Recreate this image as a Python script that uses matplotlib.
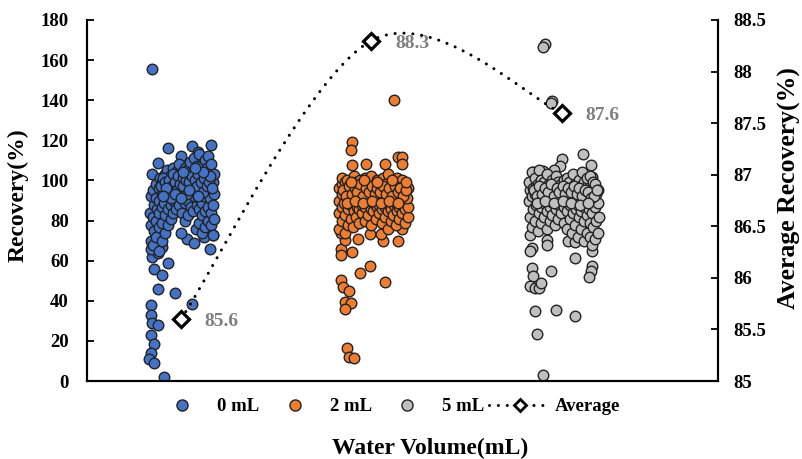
import matplotlib
matplotlib.use("Agg")
import matplotlib.pyplot as plt
import numpy as np
from matplotlib.lines import Line2D
from matplotlib.ticker import MultipleLocator, FuncFormatter

plt.rcParams["font.family"] = ["Liberation Serif", "DejaVu Serif"]
plt.rcParams["font.weight"] = "bold"

# ---- data -------------------------------------------------------------
groups = ["0 mL", "2 mL", "5 mL"]
group_pos = [1, 2, 3]
avg_recovery = [85.6, 88.3, 87.6]

# (jittered x, recovery %) for every sample
rec_0ml = [
    (0.85, 155.5),
    (0.84, 38.0), (0.84, 33.0), (0.85, 29.0), (0.88, 28.0), (0.84, 23.0), (0.86, 18.5),
    (0.84, 14.0), (0.83, 11.0), (0.86, 9.0), (0.91, 2.0),
    (0.88, 46.0), (0.97, 44.0), (1.06, 38.5),
    (0.86, 56.0), (0.90, 53.0), (0.93, 59.0), (0.85, 62.0), (0.88, 64.0), (0.84, 66.0), (0.90, 67.0),
    (1.15, 66.0), (1.03, 71.0), (1.07, 69.0), (1.17, 73.0), (1.12, 72.0), (1.00, 74.0),
    (0.93, 116.0), (0.88, 108.5), (0.85, 103.0), (1.00, 112.0), (1.06, 117.0), (1.16, 117.5),
    (1.09, 114.0), (1.12, 110.0),
    (0.840, 70), (0.843, 78), (0.838, 84), (0.841, 92),
    (0.855, 68), (0.857, 75), (0.853, 82), (0.856, 88), (0.854, 95),
    (0.870, 72), (0.868, 80), (0.872, 86), (0.869, 91), (0.871, 98),
    (0.885, 65), (0.887, 77), (0.883, 84), (0.886, 90), (0.884, 96), (0.888, 101),
    (0.900, 70), (0.902, 79), (0.898, 87), (0.901, 93), (0.899, 99),
    (0.915, 74), (0.917, 83), (0.913, 89), (0.916, 95), (0.914, 103),
    (0.930, 78), (0.932, 86), (0.928, 92), (0.931, 97), (0.929, 105),
    (0.945, 81), (0.947, 88), (0.943, 94), (0.946, 99), (0.944, 102),
    (0.960, 84), (0.962, 90), (0.958, 95), (0.961, 100), (0.959, 106),
    (0.975, 86), (0.977, 92), (0.973, 97), (0.976, 101), (0.974, 104),
    (0.990, 88), (0.992, 93), (0.988, 96), (0.991, 100), (0.989, 108),
    (1.005, 84), (1.007, 91), (1.003, 95), (1.006, 99), (1.004, 103),
    (1.020, 80), (1.022, 89), (1.018, 94), (1.021, 98), (1.019, 102), (1.023, 106),
    (1.035, 83), (1.037, 90), (1.033, 96), (1.036, 100), (1.034, 105),
    (1.050, 87), (1.052, 93), (1.048, 97), (1.051, 101), (1.049, 109),
    (1.065, 85), (1.067, 92), (1.063, 96), (1.066, 99), (1.064, 104), (1.068, 111),
    (1.080, 76), (1.082, 88), (1.078, 94), (1.081, 98), (1.079, 102), (1.083, 107),
    (1.095, 79), (1.097, 86), (1.093, 91), (1.096, 95), (1.094, 100), (1.098, 105), (1.092, 113),
    (1.110, 74), (1.112, 83), (1.108, 89), (1.111, 96), (1.109, 101), (1.113, 108),
    (1.125, 77), (1.127, 85), (1.123, 92), (1.126, 98), (1.124, 103), (1.128, 110),
    (1.140, 80), (1.142, 87), (1.138, 94), (1.141, 100), (1.139, 106), (1.143, 112),
    (1.155, 78), (1.157, 84), (1.153, 91), (1.156, 97), (1.154, 104), (1.158, 108),
    (1.170, 73), (1.172, 81), (1.168, 88), (1.171, 93), (1.169, 99), (1.173, 103),
    (0.893, 97), (0.905, 101), (0.918, 99), (0.926, 94), (0.937, 100), (0.951, 97),
    (0.957, 103), (0.968, 99), (0.979, 95), (0.984, 102), (0.996, 98), (1.009, 101),
    (1.013, 97), (1.027, 100), (1.031, 93), (1.044, 99), (1.057, 102), (1.061, 95),
    (1.072, 100), (1.086, 97), (1.091, 103), (1.103, 99), (1.117, 94), (1.121, 101),
    (1.134, 97), (1.147, 99), (1.151, 102), (1.163, 96), (0.949, 91), (0.967, 93),
    (1.002, 91), (1.041, 95), (1.088, 92), (1.118, 104), (0.922, 96), (0.908, 92),
    (1.076, 106), (1.013, 104),
]

rec_2ml = [
    (2.12, 140.0),
    (1.90, 119.0), (1.89, 115.0), (1.90, 107.5), (1.97, 108.0), (2.07, 108.0), (2.14, 111.5),
    (2.16, 111.5), (2.16, 108.0),
    (2.07, 49.5), (1.99, 57.5), (1.94, 54.0), (1.84, 50.5), (1.85, 47.0), (1.88, 45.0),
    (1.86, 39.5), (1.89, 38.7), (1.86, 36.0), (1.87, 16.3), (1.88, 11.8), (1.91, 11.5),
    (1.84, 66.0), (1.84, 63.0), (1.90, 64.5), (2.14, 70.0), (2.06, 70.0), (1.99, 73.5),
    (1.93, 70.6), (1.86, 70.3), (1.84, 73.8), (2.16, 75.8), (2.05, 73.5),
    (1.830, 76), (1.832, 84), (1.828, 90), (1.831, 96),
    (1.845, 80), (1.847, 87), (1.843, 93), (1.846, 98), (1.844, 101),
    (1.860, 74), (1.862, 83), (1.858, 89), (1.861, 94), (1.859, 99),
    (1.875, 78), (1.877, 86), (1.873, 91), (1.876, 96), (1.874, 100),
    (1.890, 81), (1.892, 88), (1.888, 92), (1.891, 95), (1.889, 98),
    (1.905, 77), (1.907, 85), (1.903, 90), (1.906, 94), (1.904, 97), (1.908, 102),
    (1.920, 82), (1.922, 87), (1.918, 91), (1.921, 95), (1.919, 99),
    (1.935, 79), (1.937, 86), (1.933, 90), (1.936, 93), (1.934, 96), (1.938, 100),
    (1.950, 84), (1.952, 88), (1.948, 92), (1.951, 95), (1.949, 98),
    (1.965, 80), (1.967, 87), (1.963, 91), (1.966, 94), (1.964, 97), (1.968, 101),
    (1.980, 83), (1.982, 89), (1.978, 92), (1.981, 95), (1.979, 99),
    (1.995, 78), (1.997, 86), (1.993, 90), (1.996, 93), (1.994, 96), (1.998, 102),
    (2.010, 85), (2.012, 89), (2.008, 92), (2.011, 94), (2.009, 97),
    (2.025, 81), (2.027, 87), (2.023, 91), (2.026, 95), (2.024, 98), (2.028, 100),
    (2.040, 84), (2.042, 88), (2.038, 92), (2.041, 96), (2.039, 99),
    (2.055, 79), (2.057, 86), (2.053, 90), (2.056, 93), (2.054, 97), (2.058, 101),
    (2.070, 82), (2.072, 87), (2.068, 91), (2.071, 94), (2.069, 98),
    (2.085, 76), (2.087, 85), (2.083, 89), (2.086, 93), (2.084, 96), (2.088, 103),
    (2.100, 80), (2.102, 86), (2.098, 90), (2.101, 94), (2.099, 97),
    (2.115, 83), (2.117, 88), (2.113, 92), (2.116, 95), (2.114, 99),
    (2.130, 78), (2.132, 85), (2.128, 89), (2.131, 93), (2.129, 96), (2.133, 101),
    (2.145, 81), (2.147, 87), (2.143, 91), (2.146, 94), (2.144, 98),
    (2.160, 84), (2.162, 88), (2.158, 92), (2.161, 95), (2.159, 100),
    (2.175, 79), (2.177, 86), (2.173, 90), (2.176, 93), (2.174, 97),
    (2.190, 82), (2.192, 87), (2.188, 91), (2.191, 96),
    (1.853, 95), (1.867, 92), (1.881, 97), (1.896, 93), (1.912, 96), (1.926, 94),
    (1.941, 98), (1.957, 92), (1.972, 96), (1.986, 94), (2.003, 97), (2.017, 93),
    (2.031, 96), (2.046, 94), (2.062, 97), (2.077, 93), (2.091, 96), (2.106, 92),
    (2.121, 97), (2.137, 94), (2.152, 96), (2.168, 92), (2.183, 95), (1.869, 89),
    (1.913, 90), (1.958, 89), (2.004, 90), (2.049, 89), (2.093, 90), (2.139, 89),
    (1.890, 99), (1.960, 100), (2.030, 99), (2.110, 100), (2.180, 99),
]

rec_5ml = [
    (2.91, 168.0), (2.90, 166.5), (2.95, 139.5), (2.94, 138.5),
    (3.11, 113.0), (3.00, 110.7), (2.99, 107.2), (2.96, 105.2), (2.85, 104.4), (2.90, 104.9),
    (3.15, 107.7), (3.16, 101.9),
    (2.84, 66.2), (2.83, 64.8), (2.92, 70.3), (2.92, 67.8), (3.03, 69.8), (3.07, 69.2),
    (3.07, 61.5), (3.16, 64.8), (3.16, 71.1), (3.16, 57.5), (3.15, 54.8), (3.14, 52.0),
    (2.94, 55.0), (2.84, 56.2), (2.85, 52.5), (2.83, 47.5), (2.86, 46.2), (2.88, 46.2),
    (2.89, 49.0), (2.86, 34.9), (2.97, 35.5), (3.07, 32.2), (2.87, 23.3), (2.90, 3.0),
    (2.830, 73), (2.832, 82), (2.828, 90), (2.831, 95), (2.829, 99),
    (2.845, 77), (2.847, 86), (2.843, 92), (2.846, 96), (2.844, 104),
    (2.860, 80), (2.862, 88), (2.858, 93), (2.861, 97), (2.859, 101),
    (2.875, 75), (2.877, 84), (2.873, 90), (2.876, 94), (2.874, 98), (2.878, 105),
    (2.890, 79), (2.892, 87), (2.888, 91), (2.891, 95), (2.889, 100),
    (2.905, 82), (2.907, 89), (2.903, 93), (2.906, 96), (2.904, 99),
    (2.920, 76), (2.922, 85), (2.918, 90), (2.921, 94), (2.919, 97), (2.923, 103),
    (2.935, 80), (2.937, 87), (2.933, 92), (2.936, 95), (2.934, 98),
    (2.950, 83), (2.952, 89), (2.948, 93), (2.951, 96), (2.949, 100),
    (2.965, 78), (2.967, 86), (2.963, 91), (2.966, 94), (2.964, 97), (2.968, 102),
    (2.980, 81), (2.982, 88), (2.978, 92), (2.981, 95), (2.979, 99),
    (2.995, 84), (2.997, 90), (2.993, 93), (2.996, 96), (2.994, 98),
    (3.010, 79), (3.012, 87), (3.008, 91), (3.011, 95), (3.009, 100),
    (3.025, 76), (3.027, 85), (3.023, 90), (3.026, 94), (3.024, 97), (3.028, 101),
    (3.040, 81), (3.042, 88), (3.038, 92), (3.041, 95), (3.039, 99),
    (3.055, 74), (3.057, 84), (3.053, 89), (3.056, 93), (3.054, 96), (3.058, 103),
    (3.070, 78), (3.072, 86), (3.068, 91), (3.071, 94), (3.069, 98),
    (3.085, 72), (3.087, 82), (3.083, 88), (3.086, 92), (3.084, 96), (3.088, 100),
    (3.100, 76), (3.102, 85), (3.098, 90), (3.101, 94), (3.099, 97), (3.103, 104),
    (3.115, 70), (3.117, 80), (3.113, 87), (3.116, 91), (3.114, 95), (3.118, 99),
    (3.130, 74), (3.132, 83), (3.128, 89), (3.131, 93), (3.129, 97), (3.133, 101),
    (3.145, 72), (3.147, 79), (3.143, 86), (3.146, 92), (3.144, 96), (3.148, 102),
    (3.160, 68), (3.162, 77), (3.158, 84), (3.161, 90), (3.159, 94), (3.163, 99),
    (3.175, 71), (3.177, 80), (3.173, 87), (3.176, 93), (3.174, 98),
    (3.190, 74), (3.192, 82), (3.188, 89), (3.191, 95),
    (2.853, 95), (2.867, 92), (2.881, 97), (2.896, 93), (2.912, 96), (2.926, 94),
    (2.941, 98), (2.957, 92), (2.972, 96), (2.986, 94), (3.003, 97), (3.017, 93),
    (3.031, 96), (3.046, 94), (3.062, 97), (3.077, 93), (3.091, 96), (3.106, 92),
    (3.121, 95), (3.137, 94), (3.152, 91), (3.168, 92), (3.183, 95), (2.869, 89),
    (2.913, 90), (2.958, 89), (3.004, 90), (3.049, 89), (3.093, 88), (3.139, 89),
]

series = [rec_0ml, rec_2ml, rec_5ml]
colors = ["#4472C4", "#ED7D31", "#BFBFBF"]
edge = "#222222"


def smooth_curve(xs, ys, n=80):
    """Piecewise cubic Bezier through the points (spreadsheet-style smoothing)."""
    P = np.column_stack([xs, ys]).astype(float)
    parts = []
    t = np.linspace(0, 1, n)[:, None]
    for i in range(len(P) - 1):
        p0, p3 = P[i], P[i + 1]
        prev = P[i - 1] if i > 0 else P[i]
        nxt = P[i + 2] if i + 2 < len(P) else P[i + 1]
        c1 = p0 + (p3 - prev) / 6.0
        c2 = p3 - (nxt - p0) / 6.0
        seg = (1 - t) ** 3 * p0 + 3 * (1 - t) ** 2 * t * c1 + 3 * (1 - t) * t ** 2 * c2 + t ** 3 * p3
        parts.append(seg if i == 0 else seg[1:])
    return np.vstack(parts)


# ---- figure -----------------------------------------------------------
fig = plt.figure(figsize=(8.02, 4.59), dpi=100)
ax = fig.add_axes([87 / 802, 1 - 381 / 459, (718 - 87) / 802, (381 - 20) / 459])
ax2 = ax.twinx()

for pts, col in zip(series, colors):
    arr = np.array(pts, dtype=float)
    ax.scatter(arr[:, 0], arr[:, 1], s=58, facecolor=col, edgecolor=edge, linewidths=1.0, zorder=3)

ax.set_xlim(0.5066, 3.819)
ax.set_ylim(0, 180)
ax.yaxis.set_major_locator(MultipleLocator(20))
ax.set_xticks([])

ax2.set_ylim(85, 88.5)
ax2.yaxis.set_major_locator(MultipleLocator(0.5))
ax2.yaxis.set_major_formatter(FuncFormatter(lambda v, p: f"{v:g}"))

dotted = (0, (0.01, 2.9))
curve = smooth_curve(group_pos, avg_recovery)
ax2.plot(curve[:, 0], curve[:, 1], color="black", lw=2.2, linestyle=dotted,
         dash_capstyle="round", zorder=4)
ax2.plot(group_pos, avg_recovery, linestyle="none", marker="D", ms=8.5,
         mfc="white", mec="black", mew=2.3, zorder=5)
for x, v in zip(group_pos, avg_recovery):
    ax2.annotate(f"{v:.1f}", (x, v), xytext=(17, -2), textcoords="offset points",
                 ha="left", va="center", fontsize=14, color="#7F7F7F", fontweight="bold")

for a in (ax, ax2):
    a.spines["top"].set_visible(False)
    for s in ("left", "right", "bottom"):
        a.spines[s].set_linewidth(1.5)
        a.spines[s].set_color("black")

ax.tick_params(axis="y", direction="in", length=5, width=1.3, pad=13, labelsize=13.5)
ax2.tick_params(axis="y", direction="in", length=5, width=1.3, pad=11, labelsize=13.5)

fig.text(18 / 802, 1 - 195 / 459, "Recovery(%)", rotation=90, ha="center", va="center",
         fontsize=17, fontweight="bold")
fig.text(789 / 802, 1 - 188 / 459, "Average Recovery(%)", rotation=90, ha="center", va="center",
         fontsize=18.5, fontweight="bold")
fig.text(430 / 802, 1 - 448 / 459, "Water Volume(mL)", ha="center", va="center",
         fontsize=17, fontweight="bold")

handles = [Line2D([], [], linestyle="none", marker="o", ms=8, mfc=c, mec=edge, mew=1.0)
           for c in colors]
handles.append(Line2D([], [], color="black", lw=2.2, linestyle=dotted, dash_capstyle="round",
                      marker="D", ms=6.5, mfc="white", mec="black", mew=2.0))
fig.legend(handles, groups + ["Average"], loc="center", bbox_to_anchor=(386 / 802, 1 - 406.7 / 459),
           ncol=4, frameon=False, prop={"size": 13.5, "weight": "bold"},
           handlelength=3.25, handletextpad=0.25, columnspacing=0.25, borderpad=0)

fig.savefig("out.png", dpi=100)
